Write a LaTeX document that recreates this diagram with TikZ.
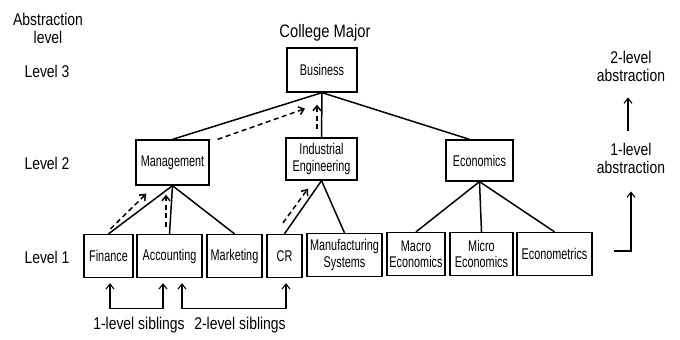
\documentclass[tikz,border=0pt]{standalone}
\usepackage{fontspec}
\setmainfont{Liberation Sans}[FakeStretch=0.82]
\newfontfamily\boxfont{Liberation Sans}[FakeStretch=0.7]
\usetikzlibrary{arrows.meta,calc}

\begin{document}
\begin{tikzpicture}[x=1pt,y=-1pt,
    box/.style={draw,line width=1.3pt,inner sep=1pt,align=center,
        minimum height=43pt,font=\boxfont\fontsize{15.5}{16.5}\selectfont},
    tree/.style={line width=1.5pt},
    upward/.style={-{Straight Barb[length=5pt,width=8pt]},line width=1.5pt,
        dash pattern=on 5pt off 3.5pt},
    sibling/.style={{Straight Barb[length=5pt,width=8pt]}-{Straight Barb[length=5pt,width=8pt]},
        line width=1.1pt},
    lbl/.style={font=\fontsize{17}{18}\selectfont,align=center,inner sep=0pt}]
    \useasboundingbox (0,0) rectangle (680,340);

    % left column
    \node[lbl] (abst) at (48,28) {Abstraction\\level};
    \node[lbl] (lev3) at (47,71) {Level 3};
    \node[lbl] (lev2) at (47,163) {Level 2};
    \node[lbl] (lev1) at (47,257) {Level 1};

    \node[lbl,font=\fontsize{18}{18}\selectfont] (major) at (325,33) {College Major};

    % level 3 and 2
    \node[box,minimum width=70pt,minimum height=44pt] (bus) at (322,70) {Business};
    \node[box,minimum width=73pt,minimum height=45pt] (mgmt) at (172.5,162.5) {Management};
    \node[box,minimum width=71pt,minimum height=42pt] (ie) at (321.5,159) {Industrial\\Engineering};
    \node[box,minimum width=67pt,minimum height=41pt] (econ) at (479.5,160.5) {Economics};

    % level 1
    \node[box,minimum width=49pt] (fin) at (108.5,256) {Finance};
    \node[box,minimum width=65pt] (acc) at (169.5,256) {Accounting};
    \node[box,minimum width=55pt] (mkt) at (234.5,256) {Marketing};
    \node[box,minimum width=35pt] (cr) at (284.5,256) {CR};
    \node[box,minimum width=75pt] (mfg) at (344.5,255) {Manufacturing\\Systems};
    \node[box,minimum width=58pt] (macro) at (416,254) {Macro\\Economics};
    \node[box,minimum width=63pt] (micro) at (481.5,254) {Micro\\Economics};
    \node[box,minimum width=75pt] (emet) at (554.5,254) {Econometrics};

    % tree
    \draw[tree] (bus.south) -- (mgmt.north);
    \draw[tree] (bus.south) -- (ie.north);
    \draw[tree] (bus.south) -- ($(econ.north)+(-10,0)$);
    \foreach \c in {fin,acc,mkt}
        \draw[tree] (mgmt.south) -- (\c.north);
    \foreach \c in {cr,mfg}
        \draw[tree] (ie.south) -- (\c.north);
    \foreach \c in {macro,micro,emet}
        \draw[tree] (econ.south) -- (\c.north);

    % abstraction paths
    \draw[upward] ($(fin.north)+(2,-5)$) -- ($(mgmt.south west)+(11,8)$);
    \draw[upward] ($(acc.north)+(-3.5,-7)$) -- ($(mgmt.south)+(-6.5,9)$);
    \draw[upward] ($(cr.north)+(-1.5,-11)$) -- ($(ie.south)+(-13.5,8)$);
    \draw[upward] ($(mgmt.north east)+(8,0)$) -- ($(bus.south)+(-17,16)$);
    \draw[upward] ($(ie.north)+(-4.5,-8)$) -- ($(bus.south)+(-5,12)$);

    % siblings
    \draw[sibling] ($(fin.south)+(1.5,5)$) -- ++(0,25) -| ($(acc.south)+(-6.5,5)$);
    \draw[sibling] ($(acc.south)+(12.5,5)$) -- ++(0,25) -| ($(cr.south)+(1.5,5)$);
    \node[lbl] (sib1) at (139,325) {1-level siblings};
    \node[lbl] (sib2) at (240,325) {2-level siblings};

    % right column
    \node[lbl] (abs2) at (631,66) {2-level\\abstraction};
    \node[lbl] (abs1) at (631,158) {1-level\\abstraction};
    \coordinate (l1end) at (614,251);
    \draw[sibling,-{Straight Barb[length=5pt,width=8pt]}] ($(abs1.north)+(-3,-12)$) -- ($(abs2.south)+(-3,16)$);
    \draw[sibling,-{Straight Barb[length=5pt,width=8pt]}] (l1end) -| ($(abs1.south)+(0,18)$);
\end{tikzpicture}
\end{document}
